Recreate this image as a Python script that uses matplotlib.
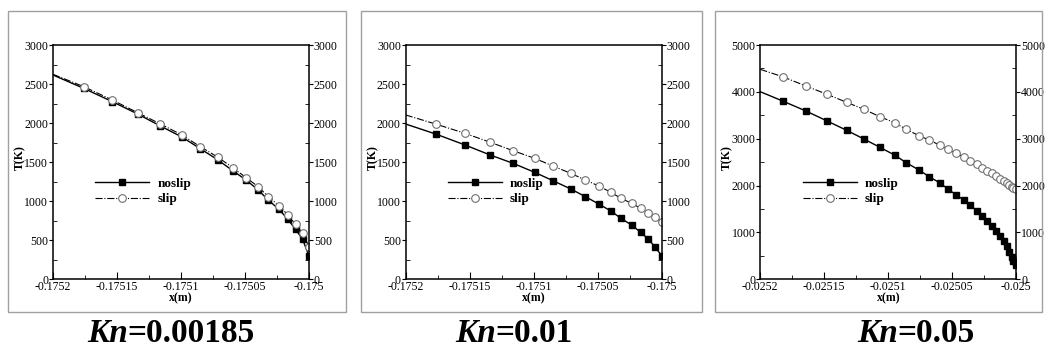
import matplotlib
matplotlib.use("Agg")
import matplotlib.pyplot as plt
from matplotlib.patches import Rectangle
from matplotlib.offsetbox import TextArea, HPacker, AnchoredOffsetbox
from matplotlib.ticker import MultipleLocator, FixedLocator

plt.rcParams['font.family'] = ['Liberation Serif', 'DejaVu Serif']

# data
x_a = [-0.1752, -0.175176, -0.1751537, -0.1751339, -0.1751161, -0.1750993, -0.175085,
       -0.1750711, -0.1750596, -0.1750492, -0.1750397, -0.1750319, -0.1750235,
       -0.1750165, -0.1750105, -0.175005, -0.175]
noslip_1 = [2616, 2445, 2275, 2117, 1963, 1822, 1673, 1528, 1391, 1272, 1144, 1016, 896,
            768, 640, 512, 299]
slip_1 = [2625, 2467, 2296, 2134, 1989, 1848, 1699, 1562, 1430, 1302, 1186, 1058, 943,
          824, 704, 589, 418]

noslip_2 = [1988, 1857, 1720, 1591, 1485, 1370, 1263, 1157, 1058, 964, 875, 781, 695,
            602, 516, 410, 302]
slip_2 = [2104, 1985, 1869, 1754, 1647, 1549, 1451, 1357, 1271, 1195, 1114, 1037, 973,
          909, 853, 794, 738]

x_c = [-0.0252, -0.0251825, -0.0251643, -0.0251477, -0.0251325, -0.025119, -0.0251065,
       -0.025095, -0.025086, -0.025076, -0.025068, -0.02506, -0.025053, -0.025047,
       -0.025041, -0.025036, -0.025031, -0.025027, -0.025023, -0.025019, -0.025016,
       -0.025013, -0.02501, -0.025007, -0.0250055, -0.0250037, -0.0250022, -0.025]
noslip_3 = [4003, 3804, 3591, 3377, 3179, 2993, 2816, 2650, 2488, 2332, 2189, 2061, 1920,
            1799, 1692, 1579, 1464, 1350, 1244, 1137, 1031, 924, 824, 710, 589, 482, 390, 300]
slip_3 = [4480, 4323, 4124, 3947, 3776, 3627, 3469, 3341, 3200, 3064, 2972, 2865, 2774,
          2688, 2616, 2530, 2454, 2381, 2317, 2262, 2204, 2146, 2097, 2048, 2006, 1969,
          1941, 1930]

xticks_a = [-0.1752, -0.17515, -0.1751, -0.17505, -0.175]
xlabels_a = ['-0.1752', '-0.17515', '-0.1751', '-0.17505', '-0.175']
xticks_c = [-0.0252, -0.02515, -0.0251, -0.02505, -0.025]
xlabels_c = ['-0.0252', '-0.02515', '-0.0251', '-0.02505', '-0.025']

captions = ['0.00185', '0.01', '0.05']

panels = [
    (x_a, noslip_1, slip_1, xticks_a, xlabels_a, 3000, 500),
    (x_a, noslip_2, slip_2, xticks_a, xlabels_a, 3000, 500),
    (x_c, noslip_3, slip_3, xticks_c, xlabels_c, 5000, 1000),
]

W, H = 1048, 351
fig = plt.figure(figsize=(W / 100, H / 100), dpi=100)

# grey frames around each panel
frames = [(8, 11, 346, 312), (361, 11, 702, 312), (715, 11, 1042, 312)]
for x0, y0, x1, y1 in frames:
    fig.add_artist(Rectangle((x0 / W, 1 - y1 / H), (x1 - x0) / W, (y1 - y0) / H,
                             transform=fig.transFigure, fill=False,
                             edgecolor='#a0a0a0', linewidth=1.0))

ax_left = [53, 405.7, 760.3]
ax_w = 256
ax_top, ax_bot = 45, 279.3
cap_x = [171, 514, 916]

for i, (xs, ns, sl, xt, xl, ymax, ystep) in enumerate(panels):
    ax = fig.add_axes([ax_left[i] / W, 1 - ax_bot / H, ax_w / W, (ax_bot - ax_top) / H])
    ax.plot(xs, ns, color='black', lw=1.0, marker='s', markersize=4.2,
            markevery=list(range(1, len(xs))), label='noslip')
    ax.plot(xs, sl, color='black', lw=0.8, ls='-.', marker='o', markersize=5.5,
            markerfacecolor='white', markeredgecolor='#707070', markeredgewidth=0.8,
            markevery=list(range(1, len(xs))), label='slip')
    ax.set_xlim(xt[0], xt[-1])
    ax.set_ylim(0, ymax)
    ax.xaxis.set_major_locator(FixedLocator(xt))
    ax.set_xticklabels(xl)
    ax.xaxis.set_minor_locator(FixedLocator([(a + b) / 2 for a, b in zip(xt[:-1], xt[1:])]))
    ax.yaxis.set_major_locator(MultipleLocator(ystep))
    ax.yaxis.set_minor_locator(MultipleLocator(ystep / 2))
    ax.tick_params(axis='x', which='major', direction='in', length=5, width=0.8,
                   labelsize=8.5, pad=1, top=False)
    ax.tick_params(axis='x', which='minor', direction='in', length=3, width=0.6, top=False)
    ax.tick_params(axis='y', which='major', direction='out', length=3, width=0.8,
                   labelsize=8.5, pad=0.5, left=True, right=True, labelleft=True, labelright=True)
    ax.tick_params(axis='y', which='minor', direction='in', length=3, width=0.6,
                   left=True, right=True)
    for s in ax.spines.values():
        s.set_linewidth(1.1)
    ax.set_xlabel('x(m)', fontsize=8.5, fontweight='bold', labelpad=0)
    ax.set_ylabel('T(K)', fontsize=8.5, fontweight='bold')
    ax.yaxis.set_label_coords(-0.105, 0.52)
    ax.legend(loc='upper left', bbox_to_anchor=(0.165, 0.435), frameon=False,
              handlelength=4.1, handletextpad=0.6, labelspacing=0.25,
              borderpad=0, borderaxespad=0, prop={'weight': 'bold', 'size': 9.5})

    # caption: "Kn" bold italic, rest bold
    t1 = TextArea('Kn', textprops=dict(fontsize=24, fontweight='bold', fontstyle='italic'))
    t2 = TextArea('=' + captions[i], textprops=dict(fontsize=24, fontweight='bold'))
    box = HPacker(children=[t1, t2], sep=0, align='baseline')
    anc = AnchoredOffsetbox(loc='center', child=box, pad=0, borderpad=0, frameon=False,
                            bbox_to_anchor=(cap_x[i] / W, 1 - 333 / H),
                            bbox_transform=fig.transFigure)
    fig.add_artist(anc)

fig.savefig('out.png', dpi=100)
